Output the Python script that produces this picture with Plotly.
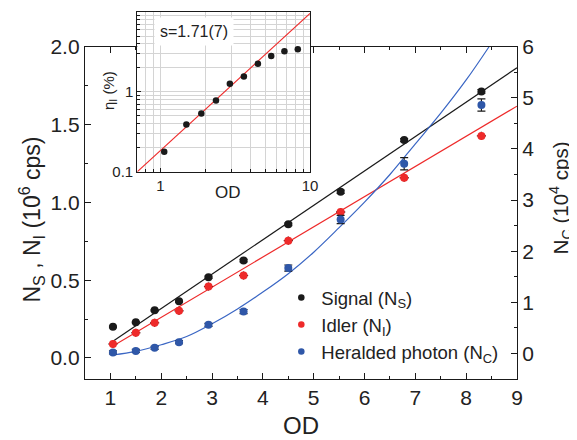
import plotly.graph_objects as go
import numpy as np

# ---------------- data ----------------
od = [1.05, 1.5, 1.87, 2.35, 2.93, 3.62, 4.5, 5.53, 6.78, 8.3]
signal = [0.20, 0.229, 0.306, 0.365, 0.519, 0.626, 0.859, 1.068, 1.40, 1.713]
signal_err = [0.005, 0.005, 0.005, 0.006, 0.007, 0.008, 0.008, 0.01, 0.01, 0.012]
idler = [0.09, 0.162, 0.226, 0.303, 0.459, 0.53, 0.754, 0.938, 1.158, 1.427]
idler_err = [0.026, 0.026, 0.026, 0.026, 0.026, 0.026, 0.026, 0.026, 0.026, 0.026]
idler_od_err = [0.09, 0.09, 0.09, 0.09, 0.09, 0.09, 0.09, 0.09, 0.09, 0.09]
herald = [0.02, 0.05, 0.11, 0.22, 0.56, 0.82, 1.67, 2.62, 3.71, 4.86]
herald_err = [0.03, 0.03, 0.03, 0.03, 0.03, 0.04, 0.06, 0.08, 0.12, 0.12]

signal_fit_x = [1.05, 9.0]
signal_fit_y = [0.108, 1.865]
idler_fit_x = [1.05, 9.0]
idler_fit_y = [0.077, 1.618]
herald_fit_x = [1.05, 1.5, 2.0, 2.5, 3.0, 3.5, 4.0, 4.5, 5.0, 5.5, 6.0, 6.5, 7.0, 7.5, 8.0, 8.45]
herald_fit_y = [-0.03, 0.04, 0.17, 0.33, 0.58, 0.87, 1.2, 1.56, 1.98, 2.46, 2.96, 3.5, 4.1, 4.7, 5.35, 6.0]

inset_od = [1.06, 1.49, 1.876, 2.35, 2.91, 3.61, 4.48, 5.5, 6.74, 8.28]
inset_eta = [0.178, 0.391, 0.537, 0.78, 1.26, 1.56, 2.24, 2.82, 3.23, 3.42]
inset_fit_x = [0.7, 10.0]
inset_fit_y = [0.1, 9.6]

x_ticks = [1, 2, 3, 4, 5, 6, 7, 8, 9]
left_ticks = [0.0, 0.5, 1.0, 1.5, 2.0]
right_ticks = [0, 1, 2, 3, 4, 5, 6]

legend_names = ["Signal (N<sub>S</sub>)", "Idler (N<sub>I</sub>)", "Heralded photon (N<sub>C</sub>)"]

BLACK = "#1a1a1a"
RED = "#ee2a2a"
BLUE = "#2f57a8"
FONT = "Liberation Sans, Arial, sans-serif"

fig = go.Figure()

# fit lines
fig.add_trace(go.Scatter(x=signal_fit_x, y=signal_fit_y, mode="lines",
                         line=dict(color=BLACK, width=1.2), showlegend=False, hoverinfo="skip"))
fig.add_trace(go.Scatter(x=idler_fit_x, y=idler_fit_y, mode="lines",
                         line=dict(color=RED, width=1.2), showlegend=False, hoverinfo="skip"))

# points
fig.add_trace(go.Scatter(x=od, y=signal, mode="markers", showlegend=False,
                         marker=dict(color=BLACK, size=8),
                         error_y=dict(type="data", array=signal_err, color=BLACK, thickness=1.2, width=4)))
fig.add_trace(go.Scatter(x=od, y=idler, mode="markers", showlegend=False,
                         marker=dict(color=RED, size=8),
                         error_y=dict(type="data", array=idler_err, color="#4a1010", thickness=1.3, width=0),
                         error_x=dict(type="data", array=idler_od_err, color="#4a1010", thickness=1.3, width=0)))

fig.add_trace(go.Scatter(x=herald_fit_x, y=herald_fit_y, mode="lines", yaxis="y3",
                         line=dict(color="#3a66c4", width=1.2, shape="spline"),
                         showlegend=False, hoverinfo="skip"))
fig.add_trace(go.Scatter(x=od, y=herald, mode="markers", yaxis="y3", showlegend=False,
                         marker=dict(color=BLUE, size=8),
                         error_y=dict(type="data", array=herald_err, color=BLACK, thickness=1.2, width=4)))

# legend entries (smaller symbols, as in the reference)
for name, col in zip(legend_names, [BLACK, RED, BLUE]):
    fig.add_trace(go.Scatter(x=[None], y=[None], mode="markers", name=name,
                             marker=dict(color=col, size=6.5)))

# inset
fig.add_trace(go.Scatter(x=inset_fit_x, y=inset_fit_y, mode="lines", xaxis="x2", yaxis="y2",
                         line=dict(color=RED, width=1.2), showlegend=False, hoverinfo="skip"))
fig.add_trace(go.Scatter(x=inset_od, y=inset_eta, mode="markers", xaxis="x2", yaxis="y2",
                         marker=dict(color=BLACK, size=6.5), showlegend=False))

axis_common = dict(showline=True, linecolor=BLACK, linewidth=1.3, ticks="inside",
                   tickcolor=BLACK, tickwidth=1.2, ticklen=6, showgrid=False, zeroline=False,
                   automargin=False,
                   tickfont=dict(size=21, color="#222222", family=FONT))

grid_minor_vals = [0.7, 0.8, 0.9, 2, 3, 4, 5, 6, 7, 8, 9]
grid_minor_y = [0.2, 0.3, 0.4, 0.5, 0.6, 0.7, 0.8, 0.9, 2, 3, 4, 5, 6, 7, 8, 9]

inset_common = dict(showline=True, linecolor=BLACK, linewidth=1.1, mirror=True, ticks="inside",
                    ticklen=4, tickcolor=BLACK, type="log", automargin=False,
                    showgrid=True, gridcolor="#d4d4d4", gridwidth=1, zeroline=False,
                    tickfont=dict(size=15, color="#222222", family=FONT))

# page has an 8px body margin: figure is shrunk by 8px so it fits the 577x440 window
fig.update_layout(
    template="none",
    width=569, height=432,
    margin=dict(l=77, r=60, t=2, b=61, autoexpand=False),
    paper_bgcolor="white", plot_bgcolor="white",
    font=dict(family=FONT, color="#222222"),
    xaxis=dict(axis_common, domain=[0, 1], range=[0.5, 9], tickvals=x_ticks, mirror="ticks",
               anchor="y",
               minor=dict(dtick=0.5, ticks="inside", ticklen=3, tickcolor=BLACK)),
    yaxis=dict(axis_common, domain=[0, 0.9005], range=[-0.135, 2.0], tickvals=left_ticks,
               tickformat=".1f", anchor="x",
               minor=dict(dtick=0.25, ticks="inside", ticklen=3, tickcolor=BLACK)),
    yaxis3=dict(axis_common, domain=[0, 0.9005], range=[-0.5, 6.0], tickvals=right_ticks,
                overlaying="y", side="right", anchor="x",
                minor=dict(dtick=0.5, ticks="inside", ticklen=3, tickcolor=BLACK)),
    xaxis2=dict(inset_common, range=[np.log10(0.7), 1],
                tickvals=[1, 10], ticktext=["1", "10"], domain=[0.121, 0.521], anchor="y2",
                minor=dict(tickvals=grid_minor_vals, showgrid=True, gridcolor="#d4d4d4",
                           ticks="inside", ticklen=2.5, tickcolor=BLACK)),
    yaxis2=dict(inset_common, range=[-1, 1],
                tickvals=[0.1, 1, 10], ticktext=["0.1", "1", "10"], domain=[0.5618, 0.9946],
                anchor="x2",
                minor=dict(tickvals=grid_minor_y, showgrid=True, gridcolor="#d4d4d4",
                           ticks="inside", ticklen=2.5, tickcolor=BLACK)),
    legend=dict(x=0.4544, y=0.2714, xanchor="left", yanchor="top", bgcolor="rgba(0,0,0,0)",
                font=dict(size=18.5, color="#222222", family=FONT), tracegroupgap=0),
    showlegend=True,
)

ann_font = dict(family=FONT, size=23, color="#222222")
fig.add_annotation(text="N<sub>S</sub> , N<sub>I</sub> (10<sup>6</sup> cps)", xref="paper", yref="paper",
                   x=-0.125, y=0.432, textangle=-90, showarrow=False, font=ann_font,
                   xanchor="center", yanchor="middle")
fig.add_annotation(text="N<sub>C</sub> (10<sup>4</sup> cps)", xref="paper", yref="paper",
                   x=1.1, y=0.49, textangle=-90, showarrow=False,
                   font=dict(family=FONT, size=20.5, color="#222222"),
                   xanchor="center", yanchor="middle")
fig.add_annotation(text="OD", xref="paper", yref="paper", x=0.5, y=-0.1247, showarrow=False,
                   font=dict(family=FONT, size=24, color="#222222"), xanchor="center", yanchor="middle")
fig.add_annotation(text="OD", xref="paper", yref="paper", x=0.3303, y=0.5049, showarrow=False,
                   font=dict(family=FONT, size=17, color="#222222"), xanchor="center", yanchor="middle")
fig.add_annotation(text="η<sub>I</sub> (%)", xref="paper", yref="paper", x=0.0555, y=0.783,
                   textangle=-90, showarrow=False,
                   font=dict(family=FONT, size=15, color="#222222"), xanchor="center", yanchor="middle")
fig.add_annotation(text="s=1.71(7)", xref="paper", yref="paper", x=0.2523, y=0.943, showarrow=False,
                   font=dict(family=FONT, size=16, color="#222222"), bgcolor="white",
                   borderpad=5, xanchor="center", yanchor="middle")

fig.write_html("out.html")
